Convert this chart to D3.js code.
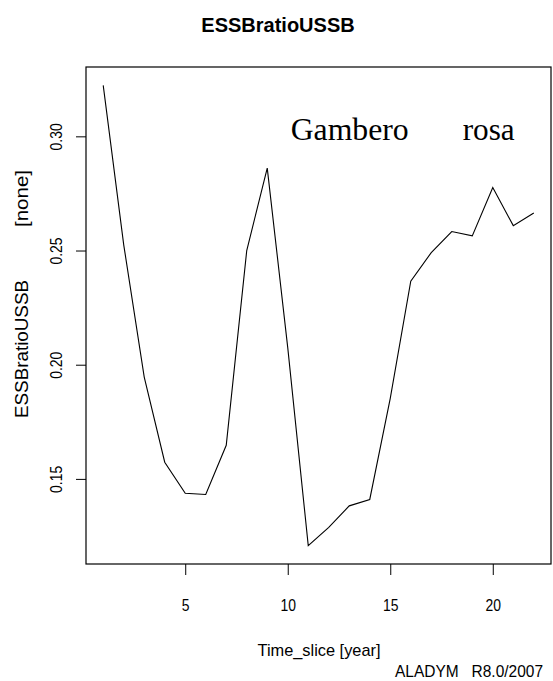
<!DOCTYPE html>
<html>
<head>
<meta charset="utf-8">
<script src="https://cdn.jsdelivr.net/npm/d3@7"></script>
<style>
  body { margin: 0; background: #fff; }
  text { font-family: "Liberation Sans", Arial, sans-serif; fill: #000; }
</style>
</head>
<body>
<div id="chart"></div>
<script>
var svgWidth = 553;
var svgHeight = 681;

var margin = { top: 67, right: 2, bottom: 117, left: 86 };
var width = svgWidth - margin.left - margin.right;
var height = svgHeight - margin.top - margin.bottom;

// data
var years = [1, 2, 3, 4, 5, 6, 7, 8, 9, 10, 11, 12, 13, 14, 15, 16, 17, 18, 19, 20, 21, 22];
var ratio = [0.3223, 0.2525, 0.1946, 0.1573, 0.1437, 0.1432, 0.1647, 0.2500, 0.2861, 0.2075,
             0.1208, 0.1288, 0.1382, 0.1410, 0.1853, 0.2366, 0.2491, 0.2583, 0.2564, 0.2776,
             0.2609, 0.2664];
var xTicks = [5, 10, 15, 20];
var yTicks = [0.15, 0.20, 0.25, 0.30];

var data = years.map((d, i) => ({ year: d, value: ratio[i] }));

var svg = d3.select("#chart")
    .append("svg")
    .attr("width", svgWidth)
    .attr("height", svgHeight);

var chartGroup = svg.append("g")
    .attr("transform", `translate(${margin.left}, ${margin.top})`);

// R style 4% axis extension
function extend(ext) {
    var pad = (ext[1] - ext[0]) * 0.04;
    return [ext[0] - pad, ext[1] + pad];
}

var xScale = d3.scaleLinear()
    .domain(extend(d3.extent(years)))
    .range([0, width]);

var yScale = d3.scaleLinear()
    .domain(extend(d3.extent(ratio)))
    .range([height, 0]);

// axes
var xAxis = chartGroup.append("g")
    .attr("transform", `translate(0, ${height})`)
    .call(d3.axisBottom(xScale).tickValues(xTicks).tickSize(11).tickSizeOuter(0).tickFormat(d3.format("d")));

xAxis.select(".domain").remove();
xAxis.selectAll("line").attr("stroke", "#000");
xAxis.selectAll("text")
    .attr("font-size", "17px")
    .attr("font-family", "Liberation Sans, Arial, sans-serif")
    .attr("y", 0)
    .attr("dy", 0)
    .attr("transform", "translate(0, 47) scale(0.82, 1)");

var yAxis = chartGroup.append("g")
    .call(d3.axisLeft(yScale).tickValues(yTicks).tickSize(10).tickSizeOuter(0).tickFormat(d3.format(".2f")));

yAxis.select(".domain").remove();
yAxis.selectAll("line").attr("stroke", "#000");
yAxis.selectAll("text")
    .attr("font-size", "17px")
    .attr("font-family", "Liberation Sans, Arial, sans-serif")
    .attr("x", 0)
    .attr("y", 0)
    .attr("dy", 0)
    .attr("text-anchor", "middle")
    .attr("transform", "translate(-24, 0) rotate(-90) scale(0.82, 1)");

// plot box
chartGroup.append("rect")
    .attr("x", 0)
    .attr("y", 0)
    .attr("width", width)
    .attr("height", height)
    .attr("fill", "none")
    .attr("stroke", "#000")
    .attr("stroke-width", 1.2);

// the series line
var line = d3.line()
    .x(d => xScale(d.year))
    .y(d => yScale(d.value));

chartGroup.append("path")
    .datum(data)
    .attr("d", line)
    .attr("fill", "none")
    .attr("stroke", "#000")
    .attr("stroke-width", 1.1);

// title
svg.append("text")
    .attr("x", 278)
    .attr("y", 32)
    .attr("text-anchor", "middle")
    .attr("font-size", "20px")
    .attr("font-weight", "bold")
    .text("ESSBratioUSSB");

// species label
chartGroup.append("text")
    .attr("x", 290.7 - margin.left)
    .attr("y", 140 - margin.top)
    .style("font-family", "'Liberation Serif', 'Times New Roman', serif")
    .attr("font-size", "32px")
    .attr("textLength", 118)
    .attr("lengthAdjust", "spacingAndGlyphs")
    .text("Gambero");

chartGroup.append("text")
    .attr("x", 462.7 - margin.left)
    .attr("y", 140 - margin.top)
    .style("font-family", "'Liberation Serif', 'Times New Roman', serif")
    .attr("font-size", "32px")
    .attr("textLength", 52)
    .attr("lengthAdjust", "spacingAndGlyphs")
    .text("rosa");

// x axis label
svg.append("text")
    .attr("x", 257.5)
    .attr("y", 656)
    .attr("font-size", "17px")
    .attr("textLength", 123)
    .attr("lengthAdjust", "spacingAndGlyphs")
    .text("Time_slice [year]");

// credit
svg.append("text")
    .attr("x", 395)
    .attr("y", 677)
    .attr("font-size", "16px")
    .attr("textLength", 148)
    .attr("lengthAdjust", "spacingAndGlyphs")
    .style("white-space", "pre")
    .text("ALADYM   R8.0/2007");

// y axis label
var yLabel = svg.append("g")
    .attr("transform", "translate(28, 0) rotate(-90)");

yLabel.append("text")
    .attr("x", -418)
    .attr("y", 0)
    .attr("font-size", "18px")
    .attr("textLength", 138)
    .attr("lengthAdjust", "spacingAndGlyphs")
    .text("ESSBratioUSSB");

yLabel.append("text")
    .attr("x", -227)
    .attr("y", 0)
    .attr("font-size", "18px")
    .attr("textLength", 57)
    .attr("lengthAdjust", "spacingAndGlyphs")
    .text("[none]");
</script>
</body>
</html>
